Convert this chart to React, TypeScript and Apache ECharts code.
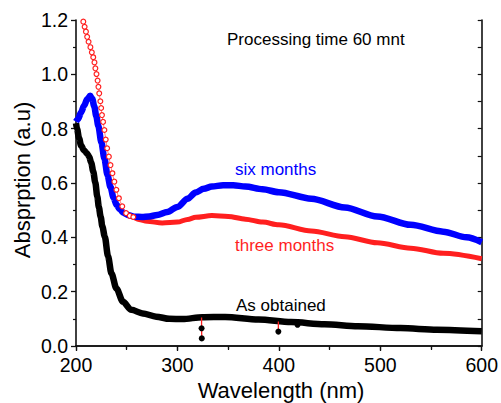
import React, { useEffect, useRef } from "react";
import * as echarts from "echarts";

// ---- data ----
const xRange = [200, 600];
const yRange = [0, 1.2];

const sixMonths: [number, number][] = [
  [200, 0.826], [202, 0.835], [205, 0.86], [208, 0.885], [211, 0.908], [214, 0.921],
  [216, 0.91], [218, 0.882], [220, 0.846], [222, 0.81], [225, 0.75], [228, 0.69],
  [231, 0.63], [234, 0.585], [237, 0.546], [240, 0.52], [243, 0.504], [247, 0.49],
  [252, 0.481], [258, 0.476], [265, 0.475], [272, 0.477], [280, 0.482], [290, 0.493],
  [300, 0.512], [310, 0.542], [318, 0.565], [326, 0.579], [334, 0.587], [345, 0.592],
  [355, 0.592], [367, 0.587], [384, 0.577], [400, 0.566], [432, 0.542], [465, 0.51],
  [497, 0.477], [530, 0.446], [562, 0.421], [585, 0.4], [600, 0.382],
];

const threeMonthsCircles: [number, number][] = [
  [207.2, 1.194], [208.5, 1.175], [209.8, 1.157], [211, 1.138], [212.4, 1.12],
  [214.2, 1.1], [215.6, 1.081], [217, 1.063], [218.2, 1.044], [219.1, 1.022],
  [220.2, 1.001], [221.3, 0.977], [222.1, 0.954], [222.9, 0.93], [224, 0.901],
  [224.8, 0.876], [225.6, 0.85], [226.7, 0.825], [228, 0.795], [229.3, 0.76],
  [230.7, 0.728], [232.4, 0.697], [234, 0.666], [235.9, 0.636], [237.8, 0.605],
  [239.8, 0.575], [242.3, 0.544], [245.6, 0.514], [249.4, 0.489], [253, 0.479],
  [256.5, 0.475],
];

const threeMonths: [number, number][] = [
  [250, 0.487], [255, 0.476], [262, 0.466], [270, 0.459], [285, 0.453], [300, 0.456],
  [310, 0.466], [318, 0.474], [334, 0.48], [350, 0.477], [367, 0.467], [384, 0.456],
  [400, 0.446], [432, 0.423], [465, 0.402], [497, 0.38], [530, 0.36], [562, 0.341],
  [600, 0.321],
];

const asObtained: [number, number][] = [
  [200, 0.82], [201, 0.8], [203, 0.765], [205, 0.738], [208, 0.72], [211, 0.708],
  [213, 0.697], [215, 0.675], [217, 0.642], [219, 0.602], [221, 0.55], [222.5, 0.512],
  [224.3, 0.476], [226, 0.44], [228.4, 0.402], [231.6, 0.33], [234.9, 0.268],
  [239.8, 0.212], [246.3, 0.163], [254.5, 0.133], [265.8, 0.12], [279, 0.108],
  [292, 0.1], [305, 0.099], [324.5, 0.106], [347, 0.107], [380, 0.098], [412, 0.088],
  [445, 0.08], [478, 0.073], [520, 0.066], [556, 0.06], [600, 0.054],
];

const spikeA: [number, number][] = [[323.8, 0.105], [323.8, 0.065], [324, 0.028]];
const spikeB: [number, number][] = [[399.5, 0.09], [399.5, 0.053]];
const spikeC: [number, number][] = [[418.4, 0.078]];

const labels = {
  title: "Processing time 60 mnt",
  six: "six months",
  three: "three months",
  obtained: "As obtained",
  xName: "Wavelength (nm)",
  yName: "Absprption (a.u)",
};

const FONT = '"Liberation Sans", Arial, sans-serif';

export default function App() {
  const ref = useRef<HTMLDivElement>(null);
  useEffect(() => {
    document.body.style.margin = "0";
    const chart = echarts.init(ref.current!, null, { renderer: "svg" });
    const axisLine = { show: true, lineStyle: { color: "#111", width: 1.6 } };
    const spike = (d: [number, number][]) => ({
      type: "line",
      data: d.map((p, i) => ({
        value: p,
        symbol: i === 0 && d.length > 1 ? "none" : "circle",
      })),
      symbolSize: 6,
      itemStyle: { color: "#000" },
      lineStyle: { color: "#ff2020", width: 1.3 },
      z: 6,
    });
    chart.setOption({
      animation: false,
      grid: { left: 76, top: 20, right: 16, bottom: 57, containLabel: false },
      xAxis: [
        {
          type: "value",
          min: xRange[0],
          max: xRange[1],
          interval: 100,
          axisLine,
          axisTick: { show: true, inside: false, length: 5, lineStyle: { color: "#111", width: 1.3 } },
          minorTick: { show: true, splitNumber: 2, length: 3, lineStyle: { color: "#111", width: 1.2 } },
          splitLine: { show: false },
          axisLabel: { color: "#000", fontSize: 19.5, fontFamily: FONT, margin: 9, lineHeight: 20 },
        },
        {
          type: "value",
          position: "top",
          min: xRange[0],
          max: xRange[1],
          interval: 50,
          axisLine,
          axisTick: { show: true, inside: true, length: 4, lineStyle: { color: "#111", width: 1.2 } },
          splitLine: { show: false },
          axisLabel: { show: false },
        },
      ],
      yAxis: [
        {
          type: "value",
          min: yRange[0],
          max: yRange[1],
          interval: 0.2,
          axisLine,
          axisTick: { show: true, inside: false, length: 5, lineStyle: { color: "#111", width: 1.3 } },
          minorTick: { show: true, splitNumber: 2, length: 3, lineStyle: { color: "#111", width: 1.2 } },
          splitLine: { show: false },
          axisLabel: {
            color: "#000",
            fontSize: 19.5,
            fontFamily: FONT,
            margin: 8,
            formatter: (v: number) => v.toFixed(1),
          },
        },
        {
          type: "value",
          position: "right",
          min: yRange[0],
          max: yRange[1],
          interval: 0.1,
          axisLine,
          axisTick: { show: true, inside: true, length: 4, lineStyle: { color: "#111", width: 1.2 } },
          splitLine: { show: false },
          axisLabel: { show: false },
        },
      ],
      series: [
        {
          type: "line",
          name: labels.obtained,
          data: asObtained,
          showSymbol: false,
          smooth: 0.3,
          smoothMonotone: "x",
          lineStyle: { color: "#000", width: 6.5 },
          z: 2,
        },
        {
          type: "line",
          name: labels.three,
          data: threeMonths,
          showSymbol: false,
          smooth: 0.3,
          smoothMonotone: "x",
          lineStyle: { color: "#ff1f1f", width: 5 },
          z: 3,
        },
        {
          type: "line",
          name: labels.six,
          data: sixMonths,
          showSymbol: false,
          smooth: 0.3,
          smoothMonotone: "x",
          lineStyle: { color: "#0000ff", width: 6.5 },
          z: 4,
        },
        {
          type: "line",
          name: labels.three + " circles",
          data: threeMonthsCircles,
          showSymbol: true,
          symbol: "circle",
          symbolSize: 4.8,
          itemStyle: { color: "#fff", borderColor: "#ff1f1f", borderWidth: 1.2 },
          lineStyle: { color: "#ff6060", width: 0.8 },
          z: 5,
        },
        spike(spikeA),
        spike(spikeB),
        spike(spikeC),
      ],
      graphic: [
        {
          type: "text",
          x: 227,
          y: 39,
          style: { text: labels.title, font: `17px ${FONT}`, fill: "#000", align: "left", verticalAlign: "middle" },
        },
        {
          type: "text",
          x: 235,
          y: 169,
          style: { text: labels.six, font: `17px ${FONT}`, fill: "#0000ff", align: "left", verticalAlign: "middle" },
        },
        {
          type: "text",
          x: 235,
          y: 245,
          style: { text: labels.three, font: `17px ${FONT}`, fill: "#ff1f1f", align: "left", verticalAlign: "middle" },
        },
        {
          type: "text",
          x: 236,
          y: 305,
          style: { text: labels.obtained, font: `17px ${FONT}`, fill: "#000", align: "left", verticalAlign: "middle" },
        },
        {
          type: "text",
          x: 281,
          y: 390,
          style: { text: labels.xName, font: `22px ${FONT}`, fill: "#000", align: "center", verticalAlign: "middle" },
        },
        {
          type: "text",
          x: 22,
          y: 180,
          rotation: Math.PI / 2,
          style: { text: labels.yName, font: `22px ${FONT}`, fill: "#000", align: "center", verticalAlign: "middle" },
        },
      ],
    });
    return () => chart.dispose();
  }, []);
  return <div ref={ref} style={{ width: 501, height: 403 }} />;
}
